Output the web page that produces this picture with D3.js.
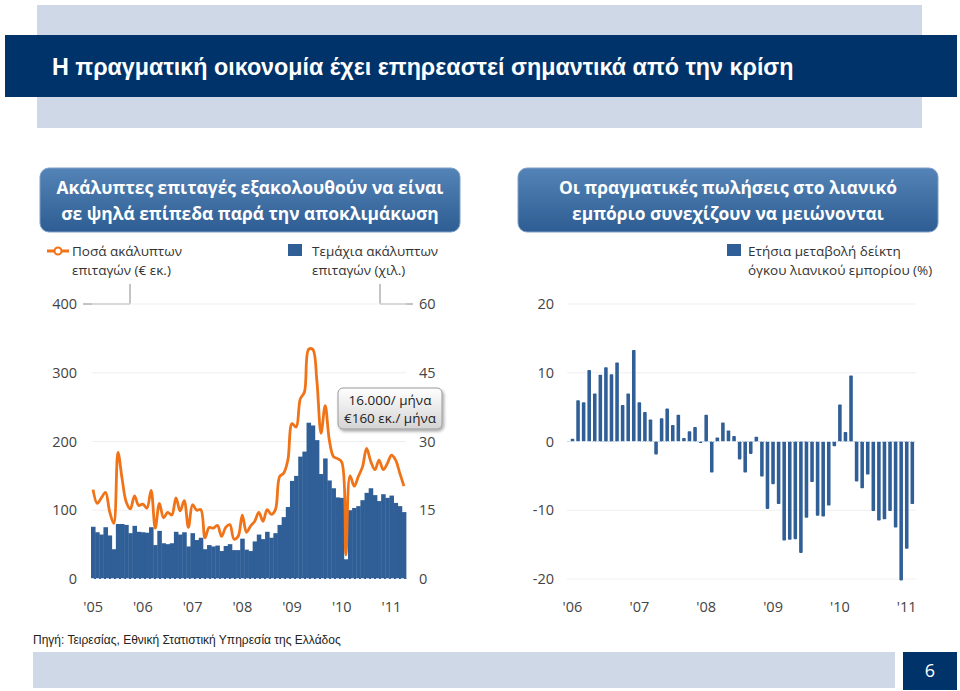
<!DOCTYPE html>
<html><head><meta charset="utf-8">
<script src="https://cdn.jsdelivr.net/npm/d3@7/dist/d3.min.js"></script>
<style>body{margin:0;background:#fff}svg{display:block}</style>
</head><body>
<svg id="c" width="960" height="691"></svg>
<script>
// ---------- DATA ----------
const title = "Η πραγματική οικονομία έχει επηρεαστεί σημαντικά από την κρίση";
const leftHeading = ["Ακάλυπτες επιταγές εξακολουθούν να είναι", "σε ψηλά επίπεδα παρά την αποκλιμάκωση"];
const rightHeading = ["Οι πραγματικές πωλήσεις στο λιανικό", "εμπόριο συνεχίζουν να μειώνονται"];
const legendAmount = ["Ποσά ακάλυπτων", "επιταγών (€ εκ.)"];
const legendCount = ["Τεμάχια ακάλυπτων", "επιταγών (χιλ.)"];
const legendRetail = ["Ετήσια μεταβολή δείκτη", "όγκου λιανικού εμπορίου (%)"];
const note = ["16.000/ μήνα", "€160 εκ./ μήνα"];
const source = "Πηγή: Τειρεσίας, Εθνική Στατιστική Υπηρεσία της Ελλάδος";
const pageNo = "6";

// Monthly, Jan 2005 - Apr 2011
const chequeCount = [ // thousands (right axis)
 11.4,10.2,9.7,11.3,9.5,6.5,12.0,12.0,11.8,10.0,11.6,10.3,
 10.2,10.1,11.3,7.4,10.5,7.8,7.6,7.8,10.3,9.7,10.2,7.1,
 10.0,8.5,9.0,6.5,7.4,7.1,7.3,6.1,7.2,7.6,6.3,6.3,
 8.8,6.4,6.1,8.2,9.7,8.7,10.3,9.0,10.0,11.8,13.5,15.7,
 21.4,22.5,26.7,27.8,34.1,33.5,30.3,22.9,26.3,21.5,19.8,17.8,
 17.7,4.3,15.0,15.5,15.9,17.2,18.8,19.8,18.3,17.0,18.5,17.7,
 18.2,16.6,15.9,14.6];
const chequeAmount = [ // € million (left axis)
 130,110,118,126,98,81,184,146,112,102,121,107,
 109,103,129,74,110,89,97,93,118,99,114,75,
 108,100,101,60,75,74,78,62,75,79,58,62,
 93,68,77,84,97,84,101,94,101,149,154,173,
 226,221,262,272,334,334,288,212,252,202,178,175,
 170,35,150,135,149,163,190,171,159,173,159,168,
 180,173,154,135];
const countYearTicks = [0,12,24,36,48,60,72];
const countYearLabels = ["'05","'06","'07","'08","'09","'10","'11"];
const amountTicks = [0,100,200,300,400];
const countTicks = [0,15,30,45,60];

// Monthly, Jan 2006 - Feb 2011
const retailChange = [
 0.4,6.0,5.7,10.4,7.0,9.7,10.8,9.8,11.5,5.3,7.0,13.3,
 5.7,4.3,3.2,-1.9,3.4,4.8,2.4,3.9,0.5,1.5,2.1,-0.2,
 3.9,-4.5,0.6,2.75,1.6,0.8,-2.6,-4.5,-1.8,0.7,-5.1,-9.8,
 -6.2,-9.1,-14.4,-14.3,-14.2,-16.2,-11.1,-5.9,-10.8,-10.9,-9.3,-0.7,
 5.4,1.4,9.6,-5.8,-6.8,-4.8,-10.1,-11.5,-11.3,-10.1,-12.5,-20.2,
 -15.6,-9.1];
const retailYearTicks = [0,12,24,36,48,60];
const retailYearLabels = ["'06","'07","'08","'09","'10","'11"];
const retailTicks = [-20,-10,0,10,20];

// ---------- STYLE ----------
const NAVY = "#00336a", PALE = "#cfd8e6", BLUE = "#2f5f96", ORANGE = "#f07318";
const FONT = "'Open Sans', 'Noto Sans', sans-serif";
const svg = d3.select("#c");
const defs = svg.append("defs");
const g1 = defs.append("linearGradient").attr("id","hb").attr("x1",0).attr("y1",0).attr("x2",0).attr("y2",1);
g1.append("stop").attr("offset","0%").attr("stop-color","#5483b7");
g1.append("stop").attr("offset","100%").attr("stop-color","#2e5d93");
const g2 = defs.append("linearGradient").attr("id","nb").attr("x1",0).attr("y1",0).attr("x2",0).attr("y2",1);
g2.append("stop").attr("offset","0%").attr("stop-color","#ffffff");
g2.append("stop").attr("offset","100%").attr("stop-color","#d4d4d4");
const sh = defs.append("filter").attr("id","sh").attr("x","-10%").attr("y","-10%").attr("width","130%").attr("height","140%");
sh.append("feDropShadow").attr("dx",1.5).attr("dy",2).attr("stdDeviation",1.5).attr("flood-color","#000").attr("flood-opacity",0.35);

// ---------- PAGE FRAME ----------
svg.append("rect").attr("x",37).attr("y",5).attr("width",885).attr("height",123).attr("fill",PALE);
svg.append("rect").attr("x",5).attr("y",35).attr("width",952).attr("height",62).attr("fill",NAVY);
svg.append("text").attr("x",52).attr("y",75).attr("fill","#fff")
  .attr("font-family","'Liberation Sans Narrow','Liberation Sans',sans-serif").attr("font-weight","bold")
  .attr("font-size",23.3).text(title);

function heading(x, lines) {
  svg.append("rect").attr("x",x).attr("y",168).attr("width",420).attr("height",64).attr("rx",9)
    .attr("fill","url(#hb)").attr("stroke","#7f9fc6").attr("stroke-width",1);
  lines.forEach((t,i)=>svg.append("text").attr("x",x+210).attr("y",194+i*26).attr("text-anchor","middle")
    .attr("fill","#fff").attr("font-family",FONT).attr("font-weight","bold").attr("font-size",17.4).text(t));
}
heading(40, leftHeading);
heading(518, rightHeading);

function legendText(x, lines) {
  lines.forEach((t,i)=>svg.append("text").attr("x",x).attr("y",256+i*19).attr("fill","#333")
    .attr("font-family",FONT).attr("font-size",13.5).text(t));
}
// orange line legend
svg.append("line").attr("x1",47).attr("x2",69).attr("y1",251).attr("y2",251).attr("stroke",ORANGE).attr("stroke-width",3);
svg.append("circle").attr("cx",58).attr("cy",251).attr("r",3.5).attr("fill","#fff").attr("stroke",ORANGE).attr("stroke-width",2);
legendText(72, legendAmount);
svg.append("rect").attr("x",288).attr("y",244).attr("width",14).attr("height",12).attr("fill",BLUE);
legendText(312, legendCount);
svg.append("rect").attr("x",727).attr("y",244).attr("width",14).attr("height",12).attr("fill",BLUE);
legendText(748, legendRetail);
// connectors
svg.append("path").attr("d","M130,284V304H83").attr("fill","none").attr("stroke","#888").attr("stroke-width",1);
svg.append("path").attr("d","M380,284V304H413").attr("fill","none").attr("stroke","#888").attr("stroke-width",1);

// ---------- LEFT CHART ----------
const xL = d3.scaleBand().domain(d3.range(chequeCount.length)).range([91,406]).padding(0);
const yAmt = d3.scaleLinear().domain([0,400]).range([579,304]);
const yCnt = d3.scaleLinear().domain([0,60]).range([579,304]);

svg.append("g").selectAll("line").data(amountTicks.filter(d=>d>0)).join("line")
  .attr("x1",92).attr("x2",406).attr("y1",d=>yAmt(d)).attr("y2",d=>yAmt(d)).attr("stroke","#efefef");

svg.append("g").selectAll("rect").data(chequeCount).join("rect")
  .attr("x",(d,i)=>xL(i)).attr("width",xL.bandwidth()+0.4)
  .attr("y",d=>yCnt(d)).attr("height",d=>yCnt(0)-yCnt(d)).attr("fill",BLUE);
svg.append("line").attr("x1",91).attr("x2",406).attr("y1",578.5).attr("y2",578.5)
  .attr("stroke","#c9d7e8").attr("stroke-width",1).attr("stroke-dasharray","3,2");

const line = d3.line().x((d,i)=>xL(i)+xL.bandwidth()/2).y(d=>yAmt(d)).curve(d3.curveCatmullRom.alpha(0.5));
svg.append("path").datum(chequeAmount).attr("d",line).attr("fill","none").attr("stroke",ORANGE)
  .attr("stroke-width",2.8).attr("stroke-linejoin","round");

function styleAxis(g, anchor) {
  g.select(".domain").remove();
  g.selectAll(".tick line").remove();
  g.selectAll("text").attr("font-family",FONT).attr("font-size",14.5).attr("fill","#444");
  if (anchor) g.selectAll("text").attr("text-anchor",anchor);
}
const plain = d => String(d);
svg.append("g").attr("transform","translate(92,0)")
  .call(d3.axisLeft(yAmt).tickValues(amountTicks).tickFormat(plain).tickSize(0).tickPadding(15)).call(g=>styleAxis(g));
svg.append("g").attr("transform","translate(406,0)")
  .call(d3.axisRight(yCnt).tickValues(countTicks).tickFormat(plain).tickSize(0).tickPadding(13)).call(g=>styleAxis(g));
svg.append("g").attr("transform","translate(0,594)")
  .call(d3.axisBottom(xL).tickValues(countYearTicks).tickFormat((d,i)=>countYearLabels[i]).tickSize(0).tickPadding(8))
  .call(g=>styleAxis(g));

// note box
svg.append("rect").attr("x",338).attr("y",388).attr("width",104).attr("height",41).attr("rx",5)
  .attr("fill","url(#nb)").attr("stroke","#9a9a9a").attr("filter","url(#sh)");
note.forEach((t,i)=>svg.append("text").attr("x",390).attr("y",405+i*18).attr("text-anchor","middle")
  .attr("font-family",FONT).attr("font-size",13.5).attr("fill","#222").text(t));

// ---------- RIGHT CHART ----------
const xR = d3.scaleBand().domain(d3.range(retailChange.length)).range([568.7,916.1]).padding(0.36);
const yR = d3.scaleLinear().domain([-20,20]).range([579,304]);
svg.append("g").selectAll("line").data(retailTicks.filter(d=>d!==0)).join("line")
  .attr("x1",567).attr("x2",916).attr("y1",d=>yR(d)).attr("y2",d=>yR(d)).attr("stroke","#efefef");
svg.append("g").selectAll("rect").data(retailChange).join("rect")
  .attr("x",(d,i)=>xR(i)).attr("width",xR.bandwidth())
  .attr("y",d=>yR(Math.max(0,d))).attr("height",d=>Math.abs(yR(d)-yR(0))).attr("rx",0.8)
  .attr("fill",BLUE);
svg.append("line").attr("x1",567).attr("x2",916).attr("y1",yR(0)).attr("y2",yR(0))
  .attr("stroke","#c9d7e8").attr("stroke-width",1).attr("stroke-dasharray","3,2");
svg.append("g").attr("transform","translate(567,0)")
  .call(d3.axisLeft(yR).tickValues(retailTicks).tickFormat(plain).tickSize(0).tickPadding(13)).call(g=>styleAxis(g));
svg.append("g").attr("transform","translate(0,594)")
  .call(d3.axisBottom(xR).tickValues(retailYearTicks).tickFormat((d,i)=>retailYearLabels[i]).tickSize(0).tickPadding(8))
  .call(g=>styleAxis(g));

// ---------- FOOTER ----------
svg.append("text").attr("x",33).attr("y",644).attr("fill","#222")
  .attr("font-family","'Liberation Sans Narrow','Liberation Sans',sans-serif").attr("font-size",12).text(source);
svg.append("rect").attr("x",33).attr("y",652).attr("width",862).attr("height",36).attr("fill",PALE);
svg.append("rect").attr("x",903).attr("y",652).attr("width",54).attr("height",38).attr("fill",NAVY);
svg.append("text").attr("x",930).attr("y",677).attr("text-anchor","middle").attr("fill","#fff")
  .attr("font-family",FONT).attr("font-size",18).text(pageNo);
</script>
</body></html>
